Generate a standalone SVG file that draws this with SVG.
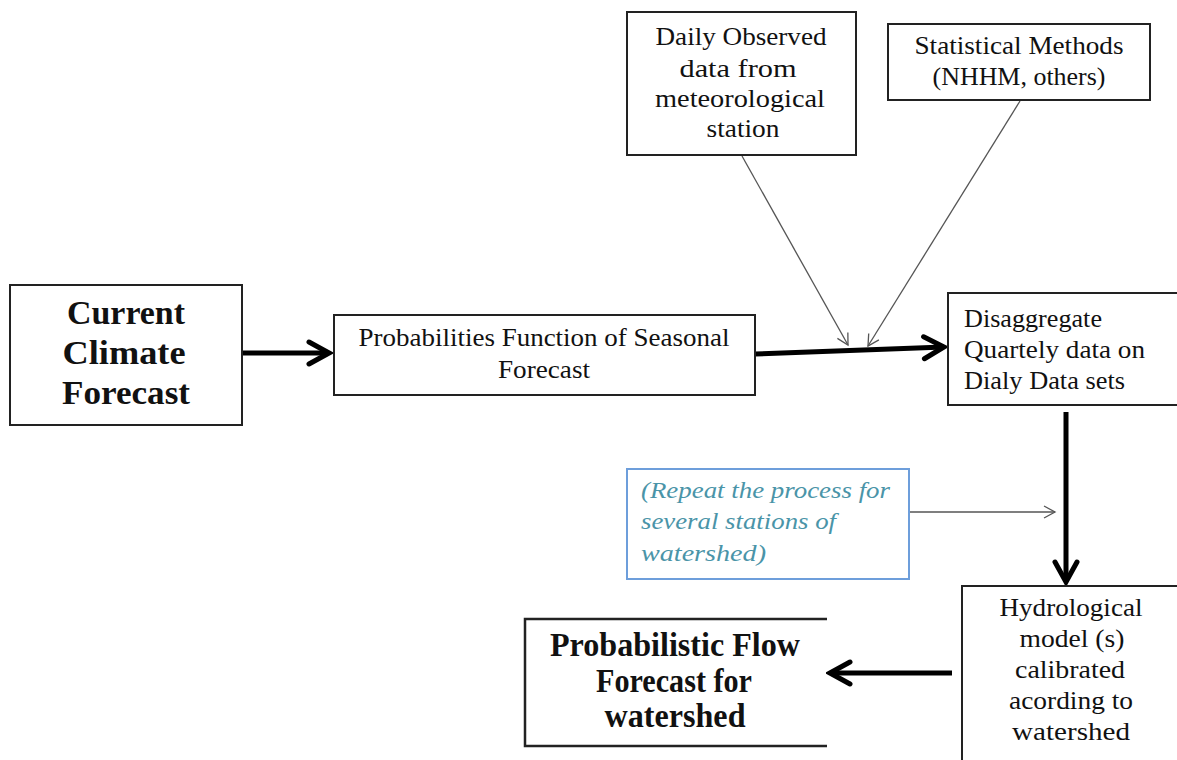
<svg xmlns="http://www.w3.org/2000/svg" width="1177" height="760" viewBox="0 0 1177 760">
<style>
.box{fill:#fff;stroke:#222;stroke-width:2}
.t{font-family:"Liberation Serif","DejaVu Serif",serif;font-size:25px;fill:#111;text-anchor:middle}
.b{font-family:"Liberation Serif","DejaVu Serif",serif;font-size:33px;font-weight:bold;fill:#111;text-anchor:middle}
.i{font-family:"Liberation Serif","DejaVu Serif",serif;font-size:24px;font-style:italic;fill:#4a94a8}
.thick{stroke:#000;stroke-width:5;fill:none}
.thin{stroke:#555;stroke-width:1.3;fill:none}
</style>
<defs>
<marker id="ah" viewBox="-24 -14 28 28" refX="0" refY="0" markerWidth="28" markerHeight="28" markerUnits="userSpaceOnUse" orient="auto">
<path d="M-20,-11 L0,0 L-20,11" fill="none" stroke="#000" stroke-width="5" stroke-linecap="round"/>
</marker>
<marker id="at" viewBox="-14 -8 16 16" refX="0" refY="0" markerWidth="16" markerHeight="16" markerUnits="userSpaceOnUse" orient="auto">
<path d="M-11,-6 L0,0 L-11,6" fill="none" stroke="#555" stroke-width="1.3"/>
</marker>
</defs>
<rect width="1177" height="760" fill="#fff"/>
<g id="connectors">
<line class="thick" x1="242" y1="353" x2="329" y2="353" marker-end="url(#ah)"/>
<line class="thick" x1="755" y1="354" x2="944" y2="347" marker-end="url(#ah)"/>
<line class="thick" x1="1066" y1="412" x2="1066" y2="582" marker-end="url(#ah)"/>
<line class="thick" x1="952" y1="673" x2="830" y2="673" marker-end="url(#ah)"/>
<line class="thin" x1="742" y1="156" x2="848" y2="345" marker-end="url(#at)"/>
<line class="thin" x1="1020" y1="101" x2="868" y2="346" marker-end="url(#at)"/>
<line class="thin" x1="910" y1="512" x2="1055" y2="512" marker-end="url(#at)"/>
</g>
<g id="daily">
<rect class="box" x="627" y="12" width="229" height="143"/>
<text class="t" x="741" y="45" textLength="171" lengthAdjust="spacingAndGlyphs">Daily Observed</text>
<text class="t" x="738" y="77" textLength="117" lengthAdjust="spacingAndGlyphs">data from</text>
<text class="t" x="740" y="107" textLength="170" lengthAdjust="spacingAndGlyphs">meteorological</text>
<text class="t" x="743" y="137" textLength="73" lengthAdjust="spacingAndGlyphs">station</text>
</g>
<g id="statistical">
<rect class="box" x="888" y="24" width="262" height="76"/>
<text class="t" x="1019" y="54" textLength="209" lengthAdjust="spacingAndGlyphs">Statistical Methods</text>
<text class="t" x="1019" y="85" textLength="173" lengthAdjust="spacingAndGlyphs">(NHHM, others)</text>
</g>
<g id="current">
<rect class="box" x="10" y="285" width="232" height="140"/>
<text class="b" x="126" y="324" textLength="118" lengthAdjust="spacingAndGlyphs">Current</text>
<text class="b" x="124" y="364" textLength="123" lengthAdjust="spacingAndGlyphs">Climate</text>
<text class="b" x="126" y="404" textLength="128" lengthAdjust="spacingAndGlyphs">Forecast</text>
</g>
<g id="probabilities">
<rect class="box" x="334" y="315" width="421" height="80"/>
<text class="t" x="544" y="346" textLength="371" lengthAdjust="spacingAndGlyphs">Probabilities Function of Seasonal</text>
<text class="t" x="544" y="378" textLength="92" lengthAdjust="spacingAndGlyphs">Forecast</text>
</g>
<g id="disaggregate">
<rect class="box" x="948" y="293" width="240" height="112"/>
<text class="t" x="964" y="327" style="text-anchor:start" textLength="138" lengthAdjust="spacingAndGlyphs">Disaggregate</text>
<text class="t" x="964" y="358" style="text-anchor:start" textLength="181" lengthAdjust="spacingAndGlyphs">Quartely data on</text>
<text class="t" x="964" y="389" style="text-anchor:start" textLength="161" lengthAdjust="spacingAndGlyphs">Dialy Data sets</text>
</g>
<g id="repeat">
<rect x="627" y="469" width="282" height="110" fill="#fff" stroke="#6d9edb" stroke-width="2"/>
<text class="i" x="641" y="498" textLength="249" lengthAdjust="spacingAndGlyphs">(Repeat the process for</text>
<text class="i" x="641" y="529" textLength="195" lengthAdjust="spacingAndGlyphs">several stations of</text>
<text class="i" x="641" y="561" textLength="125" lengthAdjust="spacingAndGlyphs">watershed)</text>
</g>
<g id="hydrological">
<rect class="box" x="962" y="586" width="230" height="190"/>
<text class="t" x="1071" y="616" textLength="143" lengthAdjust="spacingAndGlyphs">Hydrological</text>
<text class="t" x="1072" y="647" textLength="105" lengthAdjust="spacingAndGlyphs">model (s)</text>
<text class="t" x="1070" y="678" textLength="110" lengthAdjust="spacingAndGlyphs">calibrated</text>
<text class="t" x="1071" y="709" textLength="124" lengthAdjust="spacingAndGlyphs">acording to</text>
<text class="t" x="1071" y="740" textLength="118" lengthAdjust="spacingAndGlyphs">watershed</text>
</g>
<g id="flow">
<path d="M827,619 H525 V746 H827" fill="none" stroke="#222" stroke-width="2.5"/>
<text class="b" x="675" y="656" textLength="250" lengthAdjust="spacingAndGlyphs">Probabilistic  Flow</text>
<text class="b" x="674" y="692" textLength="156" lengthAdjust="spacingAndGlyphs">Forecast for</text>
<text class="b" x="675" y="727" textLength="141" lengthAdjust="spacingAndGlyphs">watershed</text>
</g>
</svg>
